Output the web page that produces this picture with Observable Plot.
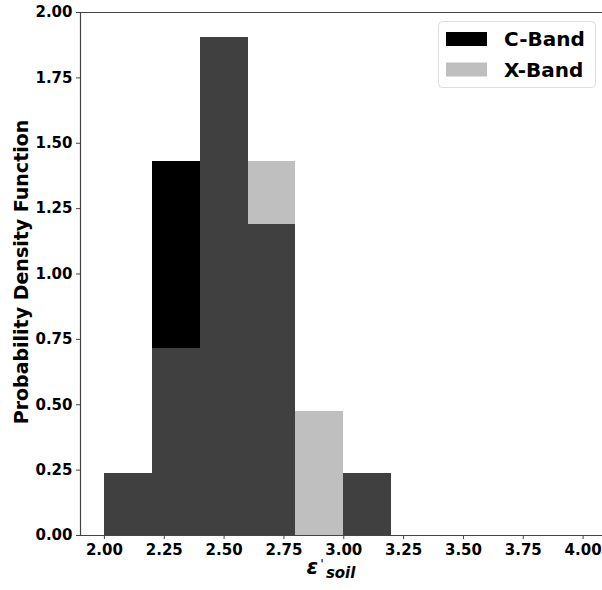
<!DOCTYPE html>
<html>
<head>
<meta charset="utf-8">
<script src="https://cdn.jsdelivr.net/npm/d3@7"></script>
<script src="https://cdn.jsdelivr.net/npm/@observablehq/plot@0.6"></script>
<style>
body { margin: 0; background: #fff; }
svg { font-family: "DejaVu Sans", sans-serif; }
</style>
</head>
<body>
<div id="chart"></div>
<script>
// Histogram bin edges (width 0.2)
const binStart = [2.0, 2.2, 2.4, 2.6, 2.8, 3.0, 3.2, 3.4, 3.6, 3.8];
const binEnd   = [2.2, 2.4, 2.6, 2.8, 3.0, 3.2, 3.4, 3.6, 3.8, 4.0];
// Probability density per bin
const cBand = [0.238, 1.429, 1.905, 1.190, 0.000, 0.238, 0, 0, 0, 0];
const xBand = [0.238, 0.714, 1.905, 1.429, 0.476, 0.238, 0, 0, 0, 0];
const yTicks = [0, 0.25, 0.5, 0.75, 1.0, 1.25, 1.5, 1.75, 2.0];
const xTicks = [2.0, 2.25, 2.5, 2.75, 3.0, 3.25, 3.5, 3.75, 4.0];
const seriesNames = ["C-Band", "X-Band"];

const cData = binStart.map((b, i) => ({x1: b, x2: binEnd[i], y: cBand[i]}));
const xData = binStart.map((b, i) => ({x1: b, x2: binEnd[i], y: xBand[i]}));

const W = 602, H = 590;
const plot = Plot.plot({
  width: W, height: H,
  marginLeft: 80, marginRight: 0, marginTop: 12, marginBottom: 55,
  style: {fontFamily: "DejaVu Sans", fontSize: "15px", fontWeight: "bold", color: "#000", background: "#fff"},
  x: {domain: [1.9, 4.081], label: null},
  y: {domain: [0, 2.0], label: null},
  marks: [
    Plot.rectY(cData, {x1: "x1", x2: "x2", y: "y", fill: "#000000", inset: 0, shapeRendering: "crispEdges"}),
    Plot.rectY(xData, {x1: "x1", x2: "x2", y: "y", fill: "#808080", fillOpacity: 0.5, inset: 0, shapeRendering: "crispEdges"}),
    Plot.ruleY([0], {stroke: "#444", strokeWidth: 1.2}),
    Plot.ruleY([2.0], {stroke: "#444", strokeWidth: 1.2}),
    Plot.ruleX([1.9], {stroke: "#444", strokeWidth: 1.2}),
    Plot.axisX({ticks: xTicks, tickFormat: d3.format(".2f"), tickSize: 4, tickPadding: 5, stroke: "#444", fill: "#000", fontSize: 15, label: null}),
    Plot.axisY({ticks: yTicks, tickFormat: d3.format(".2f"), tickSize: 4, tickPadding: 4, stroke: "#444", fill: "#000", fontSize: 15, label: null})
  ]
});
document.getElementById("chart").appendChild(plot);

const svg = d3.select(plot);
// enforce tick label font on all existing texts (only tick labels so far)
svg.selectAll("text")
  .style("font-size", "15px").style("font-weight", "bold").style("font-family", "DejaVu Sans");

// Y axis label
svg.append("text")
  .attr("transform", "translate(22,272) rotate(-90)")
  .attr("text-anchor", "middle")
  .attr("dominant-baseline", "middle")
  .style("font-family", "DejaVu Sans").style("font-weight", "bold").style("font-size", "19px")
  .attr("fill", "#000")
  .text("Probability Density Function");
// X axis label: ε'_soil
const xl = svg.append("text")
  .attr("x", 331).attr("y", 574)
  .attr("text-anchor", "middle")
  .style("font-family", "DejaVu Sans").style("font-weight", "bold").style("font-style", "italic").style("font-size", "21px")
  .attr("fill", "#000");
xl.append("tspan").text("ε");
xl.append("tspan").attr("dy", -6).attr("dx", 2).style("font-size", "13px").style("font-weight", "normal").text("'");
xl.append("tspan").attr("dy", 10).attr("dx", 2).style("font-size", "15px").text("soil");

// Legend
const lg = svg.append("g").attr("text-anchor", "start");
lg.append("rect").attr("x", 438.5).attr("y", 21.5).attr("width", 157).attr("height", 66)
  .attr("rx", 4).attr("fill", "#fff").attr("fill-opacity", 0.8).attr("stroke", "#ddd");
const swatch = ["#000000", "#bfbfbf"];
seriesNames.forEach((name, i) => {
  const cy = 39 + i * 30.5;
  lg.append("rect").attr("x", 446).attr("y", cy - 7).attr("width", 41).attr("height", 14).attr("fill", swatch[i]);
  lg.append("text").attr("x", 504).attr("y", cy).attr("dominant-baseline", "central")
    .attr("text-anchor", "start")
    .style("font-family", "DejaVu Sans").style("font-weight", "bold").style("font-size", "20px")
    .attr("fill", "#000").text(name);
});
</script>
</body>
</html>
